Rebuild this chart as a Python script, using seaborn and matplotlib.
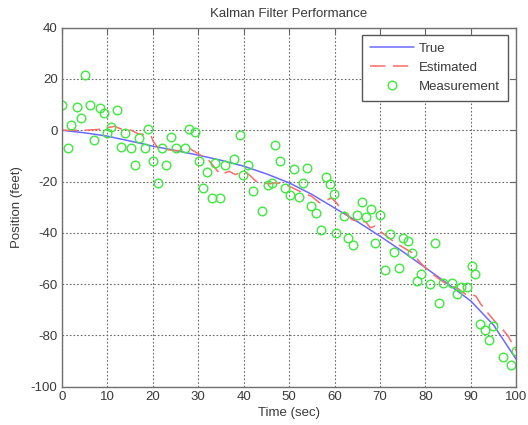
import matplotlib
matplotlib.use("Agg")
import matplotlib.pyplot as plt
import seaborn as sns
from matplotlib.lines import Line2D

# True trajectory (sampled every 5 s)
true_t = [0, 5, 10, 15, 20, 25, 30, 35, 40, 45, 50, 55, 60, 65, 70, 75, 80, 85, 90, 95, 100]
true_y = [0, -1.0, -2.3, -4.2, -6.2, -7.9, -9.7, -11.7, -14.0, -17.0, -20.5, -25.0,
          -30.3, -35.6, -41.3, -47.3, -53.6, -60.0, -66.6, -76.0, -89.4]

# Kalman filter estimate
est_t = [0, 2, 5, 8, 10, 11.6, 13, 15.3, 16.8, 18.3, 19.6, 20.1, 21.2, 23, 25, 26.5,
         27.9, 29.7, 30.8, 32, 33.4, 34.9, 36.8, 38.2, 39.9, 41.2, 42.7, 44.2, 45.6,
         47.1, 49, 50.8, 53, 54.9, 56.7, 58, 59.3, 60.4, 61.9, 63.8, 65.2, 66.9, 67.8,
         68.9, 70, 71.5, 73.4, 75.2, 77.1, 78.9, 80.4, 82.6, 84.8, 87.1, 88.9, 90,
         91.1, 92.2, 93.7, 95.2, 97, 98.2, 99.6, 100]
est_y = [0, 0, 0, 0.3, 1.0, 1.5, 0.5, 0, -1.4, -1.7, -2.0, -4.3, -6.9, -7.5, -8.0, -7.8,
         -6.9, -8.8, -10.0, -11.0, -14.0, -17.3, -16.0, -17.3, -16.0, -17.3, -19.9, -20.5,
         -20.9, -20.5, -20.9, -22.5, -24.4, -25.7, -28.3, -27.5, -26.4, -28.3, -31.6,
         -34.8, -35.7, -35.7, -38.0, -37.4, -39.4, -41.3, -43.9, -45.8, -47.8, -51.7,
         -54.3, -57.5, -60.1, -61.7, -64.0, -63.8, -64.7, -67.9, -71.2, -74.4, -77.7,
         -80.3, -84.8, -86.0]

# Noisy position measurements
meas_t = [0.0, 1.3, 2.0, 3.3, 4.2, 5.1, 6.3, 7.0, 8.3, 9.2, 10.0, 10.9, 12.2, 13.1, 14.0,
          15.3, 16.2, 16.9, 18.3, 19.0, 20.1, 21.1, 22.0, 22.9, 24.0, 25.1, 27.0, 28.0,
          29.2, 30.1, 31.0, 32.0, 33.1, 33.8, 34.9, 35.9, 37.9, 39.1, 39.9, 41.0, 42.1,
          44.0, 45.3, 46.2, 47.0, 48.0, 49.0, 50.1, 51.0, 52.1, 53.0, 53.9, 54.9, 56.0,
          57.1, 58.1, 59.1, 59.8, 60.4, 62.1, 63.0, 64.0, 65.0, 66.0, 66.9, 68.0, 68.9,
          70.0, 71.2, 72.1, 73.0, 74.1, 75.1, 76.1, 77.1, 78.2, 79.1, 81.0, 82.0, 83.0,
          83.9, 85.9, 86.9, 87.9, 89.1, 90.2, 90.9, 92.1, 93.0, 93.9, 94.8, 97.0, 98.9,
          100.0]
meas_y = [10, -6.9, 1.9, 9, 4.8, 21.4, 10, -4, 8.7, 6.8, -1, 1.2, 7.7, -6.5, -1,
          -6.9, -13.4, -3.2, -6.9, 0.3, -12, -20.5, -6.9, -13.6, -2.7, -6.9, -6.9, 0.3,
          -0.6, -12, -22.7, -16.2, -26.4, -12.7, -26.6, -13.4, -11.4, -1.7, -17.5, -13.6,
          -23.8, -31.3, -21.2, -20.5, -5.8, -12.1, -22.5, -25.3, -15.3, -26.1, -20.5,
          -14.7, -29.6, -32.2, -38.7, -18.3, -20.9, -24.8, -40, -33.5, -42.2, -44.8,
          -33.1, -27.9, -33.9, -30.9, -43.9, -32.9, -54.3, -40.6, -47.4, -53.9, -42.2,
          -43, -47.8, -58.8, -56.2, -59.9, -43.9, -67.3, -59.5, -59.5, -64, -61.2, -61.2,
          -53, -56.2, -75.5, -78, -81.9, -76.4, -88.4, -91.6, -86.1]

x_ticks = list(range(0, 101, 10))
y_ticks = list(range(-100, 41, 20))

sns.set_style("white")
plt.rcParams["font.family"] = ["Liberation Sans", "DejaVu Sans"]
plt.rcParams["font.size"] = 9.5
plt.rcParams["axes.unicode_minus"] = False

BLUE = "#6a6aff"
RED = "#ff6a6a"
GREEN = "#3fe83f"
TEXT = "#3a3a3a"
DASH = (0, (10, 5))

fig = plt.figure(figsize=(5.28, 4.25), dpi=100)
ax = fig.add_axes([0.117, 0.09, 0.861, 0.845])

sns.lineplot(x=true_t, y=true_y, ax=ax, color=BLUE, linewidth=1.1,
             estimator=None, sort=False)
sns.lineplot(x=est_t, y=est_y, ax=ax, color=RED, linewidth=1.1,
             linestyle=DASH, estimator=None, sort=False)
sns.lineplot(x=meas_t, y=meas_y, ax=ax, linestyle="", marker="o",
             markersize=6.2, markerfacecolor="none", markeredgecolor=GREEN,
             markeredgewidth=1.0, estimator=None, sort=False)

ax.set_xlim(0, 100)
ax.set_ylim(-100, 40)
ax.set_xticks(x_ticks)
ax.set_yticks(y_ticks)
ax.grid(True, color="#6a6a6a", linestyle=(0, (1.5, 1.8)), linewidth=0.8)
ax.tick_params(direction="in", length=4, width=0.8, top=True, right=True,
               colors="#666666", labelcolor=TEXT, labelsize=9.5, pad=3)
for s in ax.spines.values():
    s.set_color("#707070")
    s.set_linewidth(1.0)

ax.set_title("Kalman Filter Performance", fontsize=9.5, color=TEXT, pad=8)
ax.set_xlabel("Time (sec)", fontsize=9.5, color=TEXT, labelpad=3)
ax.set_ylabel("Position (feet)", fontsize=9.5, color=TEXT, labelpad=6)

handles = [
    Line2D([], [], color=BLUE, linewidth=1.1),
    Line2D([], [], color=RED, linewidth=1.1, linestyle=DASH),
    Line2D([], [], linestyle="", marker="o", markersize=6.2, markerfacecolor="none",
           markeredgecolor=GREEN, markeredgewidth=1.0),
]
leg = ax.legend(handles, ["True", "Estimated", "Measurement"], loc="upper right",
                bbox_to_anchor=(0.9815, 0.98), borderaxespad=0, fancybox=False,
                framealpha=1, edgecolor="#555555", handlelength=3.3,
                labelspacing=0.5, borderpad=0.6, handletextpad=0.4, fontsize=9.5)
leg.get_frame().set_linewidth(1.0)
for t in leg.get_texts():
    t.set_color(TEXT)

fig.savefig("out.png", dpi=100)
